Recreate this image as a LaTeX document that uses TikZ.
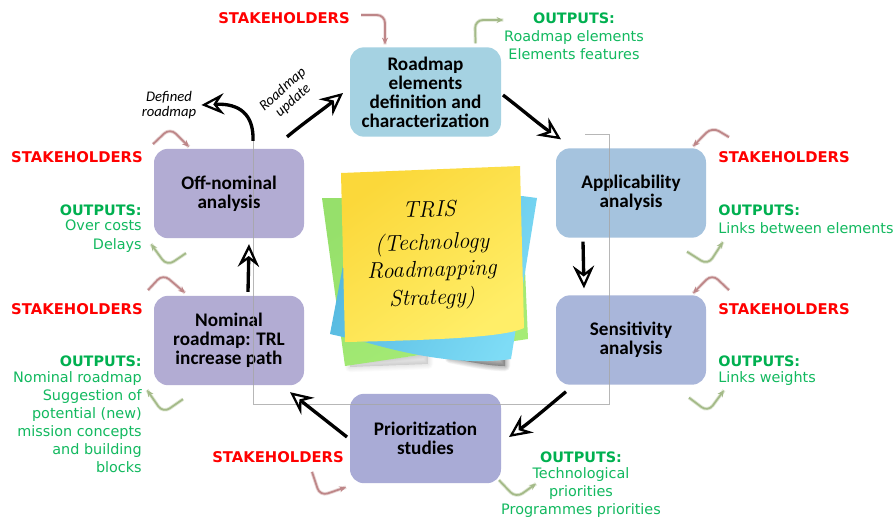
\documentclass[tikz,border=0pt]{standalone}
\usepackage{fontspec}
\setmainfont{DejaVu Sans}
\newfontfamily\boxfont{Carlito}
\newfontfamily\notefont{Latin Modern Roman}
\usetikzlibrary{arrows.meta,calc}
\definecolor{cA}{HTML}{A5D2E2}
\definecolor{cB}{HTML}{A5C3DE}
\definecolor{cC}{HTML}{A9B6DA}
\definecolor{cD}{HTML}{A9ABD6}
\definecolor{cE}{HTML}{B2ACD3}
\definecolor{red1}{HTML}{FF0000}
\definecolor{grn1}{HTML}{00B050}
\definecolor{grn2}{HTML}{12B95F}
\definecolor{stk}{HTML}{BE8688}
\definecolor{stkh}{HTML}{E8D5D5}
\definecolor{otp}{HTML}{A4BA88}
\definecolor{otph}{HTML}{DDE6D2}
\definecolor{gA}{HTML}{96E06B}
\definecolor{gB}{HTML}{A6EC76}
\definecolor{bA}{HTML}{52B6DE}
\definecolor{bB}{HTML}{7EDCF6}
\definecolor{yA}{HTML}{FBD83A}
\definecolor{yB}{HTML}{FFEE68}
\tikzset{
  x=0.75pt,y=-0.75pt,
  stepbox/.style={rounded corners=10.5pt,minimum width=112.5pt,minimum height=67pt,inner sep=0pt,outer sep=0pt,align=center,text=black,
    font=\boxfont\bfseries\fontsize{14.4}{14.3}\selectfont},
  stakelabel/.style={text=red1,inner sep=0pt,font=\bfseries\fontsize{11.1}{12}\selectfont},
  outhead/.style={text=grn1,inner sep=0pt,font=\bfseries\fontsize{10.8}{12}\selectfont},
  outtext/.style={text=grn2,inner sep=0pt,font=\fontsize{10.8}{13.6}\selectfont},
  flow/.style={line width=2.5pt,black,-{Stealth[open,fill=white,length=17pt,width=16pt,inset=6pt,line width=1.7pt]}},
  stakearrow/.style={draw=stk,line width=1.3pt,rounded corners=6pt,-{Stealth[length=5pt,width=4.5pt]},
    preaction={draw=stkh,line width=2.6pt,-}},
  outarrow/.style={draw=otp,line width=1.3pt,rounded corners=6pt,-{Stealth[length=5pt,width=4.5pt]},
    preaction={draw=otph,line width=2.6pt,-}},
  handlabel/.style={inner sep=0pt,align=center,font=\boxfont\itshape\fontsize{11}{11.6}\selectfont},
  notetext/.style={inner sep=0pt,align=center,rotate=2,font=\notefont\itshape\fontsize{17}{18}\selectfont},
}
\begin{document}
\begin{tikzpicture}
\path[use as bounding box,fill=white] (0,0) rectangle (896,519);
% sticky notes
\foreach \w in {1,2,3,4,5,6,7,8}{
  \draw[black,opacity=.012,line width=\w,line join=round,fill=black] (350,364) -- (428,354) -- (428,364) -- (350,367) -- cycle;
  \draw[black,opacity=.035,line width=\w,line join=round,fill=black] (450,356) -- (505,354) -- (505,366) .. controls (490,366) and (470,362) .. (450,358) -- cycle;
}
\shade[top color=gA,bottom color=gB,shading angle=30] (322,198) -- (345,366) -- (528,339) -- (522,200) -- cycle;
\shade[top color=bA,bottom color=bB,shading angle=60] (537,198) -- (511,359) .. controls (470,365) and (420,358) .. (365,342) -- (330,334) -- (345,255) -- (345,196) -- (522,196) -- cycle;
\shade[top color=yA,bottom color=yB,shading angle=35] (341,173) -- (520,166) -- (524,328) .. controls (505,337) and (440,340) .. (345,342) -- cycle;
\node[notetext] (t1) at (429,209) {TRIS};
\node[notetext] (t2) at (432,244) {(Technology};
\node[notetext] (t3) at (432,271) {Roadmapping};
\node[notetext] (t4) at (432,299) {Strategy)};
% boxes
\node[stepbox,fill=cA,minimum width=113.25pt] (rm) at (425.5,92) {Roadmap\\elements\\definition and\\characterization};
\node[stepbox,fill=cB] (ap) at (631,193) {Applicability\\analysis};
\node[stepbox,fill=cC] (se) at (631,340) {Sensitivity\\analysis};
\node[stepbox,fill=cD,minimum width=113.25pt] (pr) at (425.5,438.5) {Prioritization\\studies};
\node[stepbox,fill=cE] (no) at (229,340.5) {Nominal\\roadmap: TRL\\increase path};
\node[stepbox,fill=cE] (of) at (229,193.5) {Off-nominal\\analysis};
% thin frame
\draw[black!35,line width=.6pt,opacity=.8] (585,134) -- (609,134) -- (609,404) -- (253,404) -- (253,141);
% labels
\node[stakelabel,anchor=west] (s1) at (218,18) {STAKEHOLDERS};
\node[stakelabel,anchor=west] (s2) at (718,157) {STAKEHOLDERS};
\node[stakelabel,anchor=west] (s3) at (718,309) {STAKEHOLDERS};
\node[stakelabel,anchor=west] (s4) at (212,457) {STAKEHOLDERS};
\node[stakelabel,anchor=east] (s5) at (143,309) {STAKEHOLDERS};
\node[stakelabel,anchor=east] (s6) at (143,157) {STAKEHOLDERS};
\node[outhead] (o1) at (574,18) {OUTPUTS:};
\node[outtext,align=center] (o1t) at (574,45) {Roadmap elements\\Elements features};
\node[outhead,anchor=west] (o2) at (718,210) {OUTPUTS:};
\node[outtext,anchor=west] (o2t) at (718,228) {Links between elements};
\node[outhead,anchor=west] (o3) at (718,361) {OUTPUTS:};
\node[outtext,anchor=west] (o3t) at (718,379) {Links weights};
\node[outhead] (o4) at (581,457) {OUTPUTS:};
\node[outtext,align=center] (o4t) at (581,492.5) {Technological\\priorities\\Programmes priorities};
\node[outhead,anchor=east] (o5) at (142,361) {OUTPUTS:};
\node[outtext,align=right,anchor=north east] (o5t) at (142,371) {Nominal roadmap\\Suggestion of\\potential (new)\\mission concepts\\and building\\blocks};
\node[outhead,anchor=east] (o6) at (142,210) {OUTPUTS:};
\node[outtext,align=right,anchor=north east] (o6t) at (142,220) {Over costs\\Delays};
\node[handlabel] (def) at (169,105) {Defined\\roadmap};
\node[handlabel,rotate=42] (upd) at (288,95) {Roadmap\\update};
% main flow
\draw[flow] ([shift={(2,3)}]rm.east) .. controls (525,112) and (540,125) .. ([shift={(5,-9)}]ap.north west);
\draw[flow] ([shift={(-48,4)}]ap.south) -- ([shift={(-47,-7)}]se.north);
\draw[flow] ([shift={(-65,7)}]se.south) .. controls (550,405) and (530,422) .. ([shift={(8,-1.5)}]pr.east);
\draw[flow] ([shift={(-3,-1.5)}]pr.west) -- ([shift={(61,7)}]no.south);
\draw[flow] ([shift={(19,-4)}]no.north) -- ([shift={(20,6)}]of.south);
\draw[flow] ([shift={(-17,-12)}]of.north east) .. controls (305,122) and (325,108) .. ([shift={(-7,1)}]rm.west);
\draw[flow] ([shift={(24,-8)}]of.north) .. controls (254,115) and (240,103) .. ([shift={(5,0)}]def.east);
% stakeholder arrows
\draw[stakearrow] ([shift={(11,-3)}]s1.east) -- (385,15) -- ([shift={(-40.5,-3)}]rm.north);
\draw[stakearrow] ([shift={(11,-14)}]s2.north west) -- (712,127) -- ([shift={(-13,-2)}]ap.north east);
\draw[stakearrow] ([shift={(11,-13)}]s3.north west) -- (712,274) -- ([shift={(-13,-2)}]se.north east);
\draw[stakearrow] ([shift={(100,9)}]s4.south west) -- (320,496) -- ([shift={(-4,4)}]pr.south west);
\draw[stakearrow] ([shift={(5,-13)}]s5.north east) -- (163,274) -- ([shift={(31,-3)}]no.north west);
\draw[stakearrow] ([shift={(10,-7)}]s6.north east) -- (170,128) -- ([shift={(35,-2)}]of.north west);
% outputs arrows
\draw[outarrow] ([shift={(50,-4)}]rm.north) -- (475,20) -- ([shift={(-29.5,2)}]o1.west);
\draw[outarrow] ([shift={(-19,14)}]ap.south east) -- (708,265) -- ([shift={(5,8)}]o2t.south west);
\draw[outarrow] ([shift={(-17,13)}]se.south east) -- (708,412) -- ([shift={(6,4)}]o3t.south west);
\draw[outarrow] ([shift={(-2,-3)}]pr.south east) -- (516,498) -- ([shift={(-45,21)}]o4.south);
\draw[outarrow] ([shift={(29,14)}]no.south west) -- (163,413) -- ([shift={(5,19)}]o5t.north east);
\draw[outarrow] ([shift={(32,15)}]of.south west) -- (167,266) -- ([shift={(9,24)}]o6t.north east);
\end{tikzpicture}
\end{document}
